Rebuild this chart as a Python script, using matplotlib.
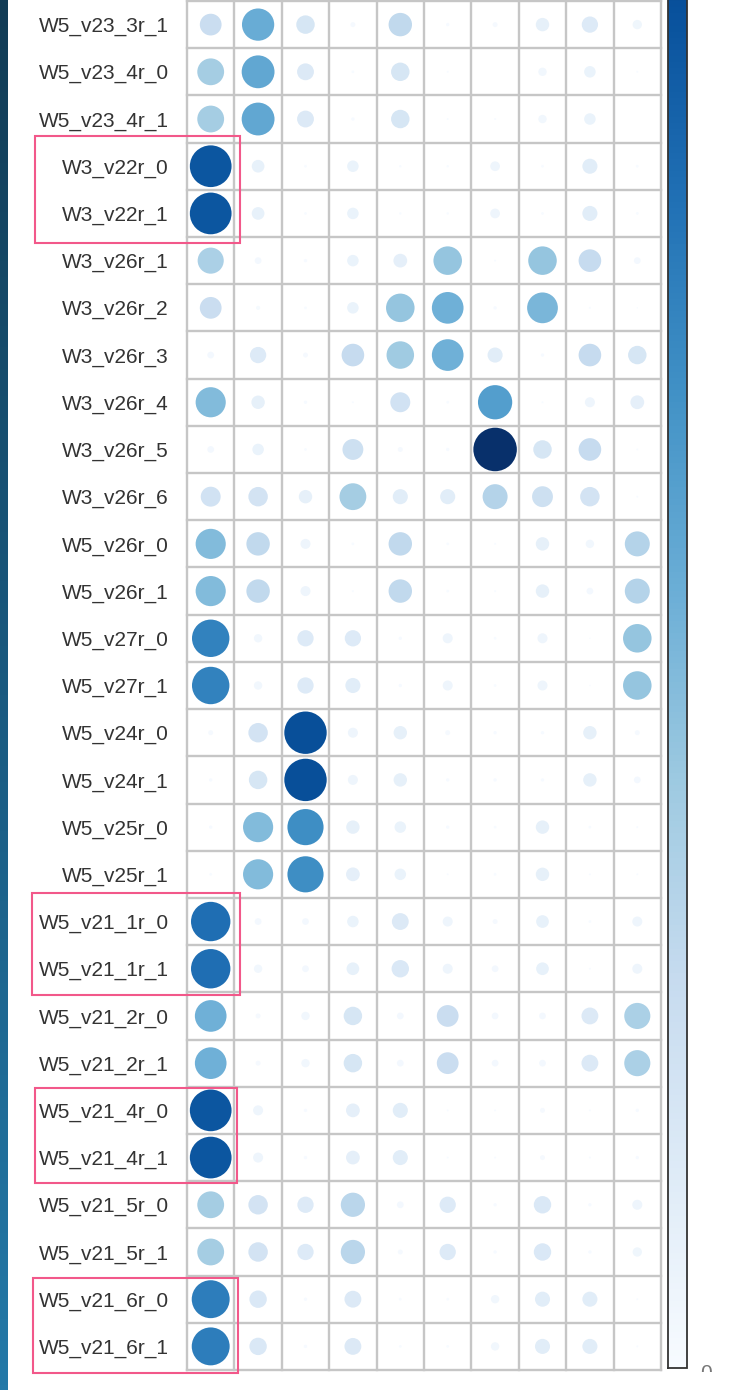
import numpy as np
import matplotlib
matplotlib.use("Agg")
import matplotlib.pyplot as plt
from matplotlib.patches import Rectangle
from matplotlib.colors import LinearSegmentedColormap, Normalize
from matplotlib.cm import ScalarMappable

plt.rcParams['font.family'] = ['Liberation Sans', 'DejaVu Sans']

# ---------------- data ----------------
rows = [
    "W5_v23_3r_1", "W5_v23_4r_0", "W5_v23_4r_1", "W3_v22r_0", "W3_v22r_1",
    "W3_v26r_1", "W3_v26r_2", "W3_v26r_3", "W3_v26r_4", "W3_v26r_5",
    "W3_v26r_6", "W5_v26r_0", "W5_v26r_1", "W5_v27r_0", "W5_v27r_1",
    "W5_v24r_0", "W5_v24r_1", "W5_v25r_0", "W5_v25r_1", "W5_v21_1r_0",
    "W5_v21_1r_1", "W5_v21_2r_0", "W5_v21_2r_1", "W5_v21_4r_0", "W5_v21_4r_1",
    "W5_v21_5r_0", "W5_v21_5r_1", "W5_v21_6r_0", "W5_v21_6r_1",
]
n_cols = 10

values = [
    [0.25, 0.55, 0.18, 0.013, 0.29, 0.006, 0.013, 0.095, 0.14, 0.046],
    [0.38, 0.57, 0.15, 0.004, 0.18, 0.002, 0.0, 0.037, 0.07, 0.002],
    [0.38, 0.57, 0.15, 0.006, 0.18, 0.002, 0.002, 0.037, 0.07, 0.0],
    [0.92, 0.085, 0.004, 0.07, 0.003, 0.003, 0.05, 0.004, 0.12, 0.004],
    [0.92, 0.085, 0.004, 0.07, 0.003, 0.003, 0.05, 0.004, 0.12, 0.004],
    [0.36, 0.024, 0.006, 0.07, 0.10, 0.43, 0.002, 0.43, 0.27, 0.024],
    [0.25, 0.009, 0.004, 0.07, 0.43, 0.53, 0.006, 0.50, 0.002, 0.001],
    [0.024, 0.14, 0.013, 0.27, 0.40, 0.53, 0.12, 0.006, 0.27, 0.18],
    [0.48, 0.095, 0.006, 0.002, 0.21, 0.004, 0.62, 0.002, 0.053, 0.10],
    [0.024, 0.07, 0.004, 0.23, 0.013, 0.006, 1.08, 0.18, 0.27, 0.002],
    [0.21, 0.20, 0.095, 0.38, 0.12, 0.12, 0.33, 0.23, 0.20, 0.002],
    [0.48, 0.29, 0.053, 0.004, 0.29, 0.004, 0.002, 0.095, 0.037, 0.33],
    [0.48, 0.29, 0.053, 0.002, 0.29, 0.004, 0.002, 0.095, 0.024, 0.33],
    [0.74, 0.037, 0.14, 0.14, 0.006, 0.053, 0.004, 0.053, 0.001, 0.43],
    [0.74, 0.037, 0.14, 0.12, 0.006, 0.053, 0.004, 0.053, 0.001, 0.43],
    [0.013, 0.20, 0.95, 0.053, 0.095, 0.013, 0.006, 0.006, 0.095, 0.013],
    [0.006, 0.18, 0.95, 0.053, 0.095, 0.006, 0.006, 0.006, 0.095, 0.024],
    [0.006, 0.48, 0.69, 0.095, 0.07, 0.006, 0.004, 0.095, 0.004, 0.002],
    [0.004, 0.48, 0.69, 0.10, 0.07, 0.002, 0.004, 0.095, 0.002, 0.002],
    [0.82, 0.024, 0.024, 0.07, 0.15, 0.053, 0.013, 0.085, 0.004, 0.053],
    [0.82, 0.037, 0.024, 0.085, 0.16, 0.053, 0.024, 0.085, 0.002, 0.053],
    [0.53, 0.013, 0.037, 0.18, 0.024, 0.25, 0.024, 0.024, 0.15, 0.36],
    [0.53, 0.013, 0.037, 0.18, 0.024, 0.25, 0.024, 0.024, 0.15, 0.36],
    [0.92, 0.053, 0.006, 0.10, 0.12, 0.002, 0.002, 0.013, 0.002, 0.006],
    [0.92, 0.053, 0.006, 0.10, 0.12, 0.002, 0.002, 0.013, 0.002, 0.006],
    [0.38, 0.20, 0.14, 0.31, 0.024, 0.14, 0.006, 0.16, 0.006, 0.053],
    [0.38, 0.20, 0.14, 0.31, 0.013, 0.14, 0.006, 0.16, 0.006, 0.046],
    [0.76, 0.16, 0.006, 0.15, 0.004, 0.004, 0.037, 0.12, 0.12, 0.002],
    [0.76, 0.16, 0.006, 0.15, 0.004, 0.004, 0.037, 0.12, 0.12, 0.002],
]

# ---------------- layout helpers ----------------
W, H, DPI = 730, 1390, 100
fig = plt.figure(figsize=(W / DPI, H / DPI), dpi=DPI)
fig.patch.set_facecolor("white")


def px_axes(x0, y0, x1, y1):
    """axes from pixel box (top-left origin)"""
    return fig.add_axes([x0 / W, 1 - y1 / H, (x1 - x0) / W, (y1 - y0) / H])


# left dark strip (slide background)
strip = px_axes(0, 0, 8, H)
strip_cmap = LinearSegmentedColormap.from_list("strip", ["#123c55", "#1a5a80", "#2479a8"])
strip.imshow(np.linspace(0, 1, 256).reshape(-1, 1), aspect="auto", cmap=strip_cmap)
strip.axis("off")

# main grid
ax = px_axes(187, 1, 661, 1370)
n_rows = len(rows)
ax.set_xlim(0, n_cols)
ax.set_ylim(n_rows, 0)
vals = np.array(values)
xs, ys = np.meshgrid(np.arange(n_cols) + 0.5, np.arange(n_rows) + 0.5)
dmax_px = 43.5
sizes = (dmax_px * np.sqrt(np.clip(vals, 0, 1)) * 72 / DPI) ** 2
ax.scatter(xs.ravel(), ys.ravel(), s=sizes.ravel(), c=vals.ravel(),
           cmap="Blues", norm=Normalize(0, 1.08), edgecolors="none", zorder=3)

grid_col = "#c6c6c6"
for i in range(n_rows + 1):
    ax.axhline(i, color=grid_col, lw=1.7, zorder=2, clip_on=False)
for j in range(n_cols + 1):
    ax.axvline(j, color=grid_col, lw=1.7, zorder=2, clip_on=False)

for sp in ax.spines.values():
    sp.set_visible(False)
ax.set_xticks([])
ax.set_yticks(np.arange(n_rows) + 0.5)
ax.set_yticklabels(rows, fontsize=15, color="#333333")
ax.tick_params(axis="y", length=0, pad=13)

# colour bar (extends above the visible frame)
cax = px_axes(668, 1368 - 1555, 687, 1368)
cb = fig.colorbar(ScalarMappable(norm=Normalize(0, 1), cmap="Blues"), cax=cax)
cb.set_ticks([])
cb.outline.set_edgecolor("#333333")
cb.outline.set_linewidth(1.3)

fig.text(706 / W, 1 - 1364 / H, "0", ha="center", va="top", fontsize=15,
         color="#777777", zorder=5)
fig.patches.append(Rectangle((690 / W, 0), 40 / W, (H - 1372) / H,
                             transform=fig.transFigure, facecolor="white",
                             edgecolor="none", zorder=6))

# highlight boxes (pixel boxes, top-left origin)
boxes = [(35, 136, 240, 243), (32, 893, 240, 995), (35, 1088, 237, 1183), (33, 1278, 238, 1373)]
for x0, y0, x1, y1 in boxes:
    fig.patches.append(Rectangle((x0 / W, 1 - y1 / H), (x1 - x0) / W, (y1 - y0) / H,
                                 transform=fig.transFigure, facecolor="none",
                                 edgecolor="#f2588a", lw=1.5, zorder=7))

fig.savefig("out.png", dpi=DPI)
